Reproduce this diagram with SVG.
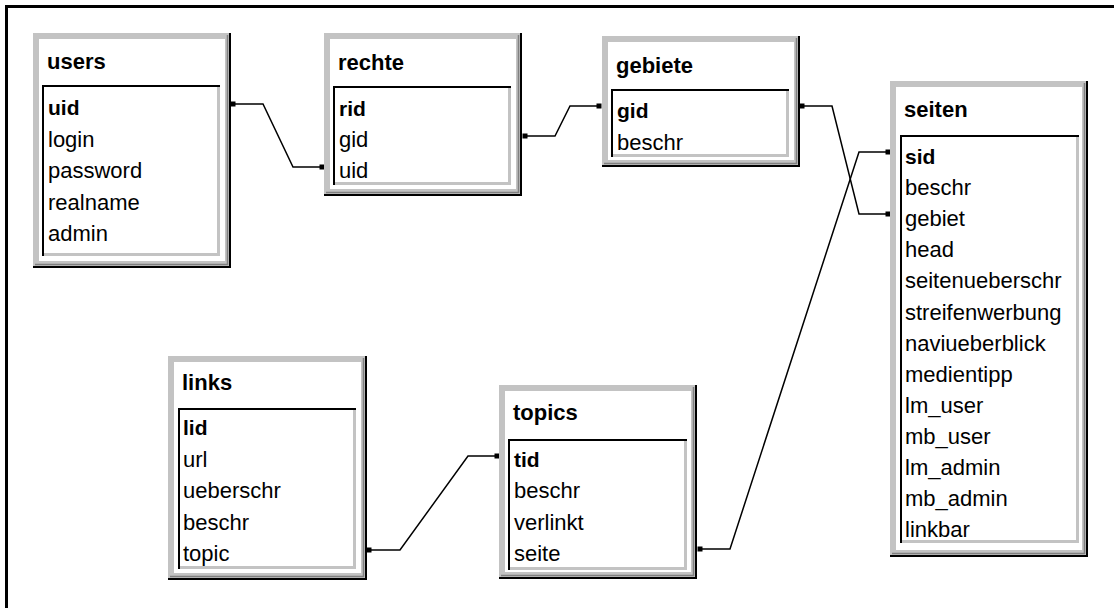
<svg xmlns="http://www.w3.org/2000/svg" width="1114" height="608" viewBox="0 0 1114 608">
<defs>
<style>
.frame{fill:#c3c3c3}
.inner{fill:#ffffff}
.dk{fill:none;stroke:#000;stroke-width:2}
.md{fill:none;stroke:#808080;stroke-width:1.5}
.lb{fill:#fff}
.lbt{fill:none;stroke:#000;stroke-width:2}
.lbb{fill:none;stroke:#c3c3c3;stroke-width:3}
.title{font-family:"Liberation Sans",Arial,sans-serif;font-weight:bold;font-size:22px;fill:#000}
.row{font-family:"Liberation Sans",Arial,sans-serif;font-size:22px;fill:#000}
.key{font-weight:bold;font-size:21px}
.conn{fill:none;stroke:#000;stroke-width:1.5;marker-start:url(#dot);marker-end:url(#dot)}
</style>
<marker id="dot" markerUnits="userSpaceOnUse" markerWidth="6" markerHeight="6" refX="3" refY="3" orient="auto">
<rect x="0.5" y="0.5" width="5" height="5" fill="#000"/>
</marker>
</defs>
<rect x="0" y="0" width="1114" height="608" fill="#fff"/>
<path d="M6.5,608 V6.5 H1114" fill="none" stroke="#000" stroke-width="3"/>

<g id="connectors">
<polyline class="conn" points="233,104 263,104 293,167 322,167"/>
<polyline class="conn" points="525,136 555,136 570,106 599,106"/>
<polyline class="conn" points="802,106 832,106 859,214 888,214"/>
<polyline class="conn" points="700,549 730,549 859,152 888,152"/>
<polyline class="conn" points="369,550 400,550 468,456 497,456"/>
</g>

<g id="users" transform="translate(33,33)">
<rect class="frame" x="0" y="0" width="198" height="235"/>
<rect class="inner" x="6" y="6" width="186" height="222"/>
<path class="md" d="M194.5,2 V231.5 H2"/>
<path class="dk" d="M197,0 V234 H0"/>
<rect class="lb" x="9" y="52" width="178" height="171"/>
<path class="lbb" d="M185.5,53 V221.5 H10"/>
<path class="lbt" d="M10,223 V53 H187"/>
<text class="title" x="14" y="36">users</text>
<text class="row key" x="15" y="82">uid</text>
<text class="row" x="15" y="113.5">login</text>
<text class="row" x="15" y="145">password</text>
<text class="row" x="15" y="176.5">realname</text>
<text class="row" x="15" y="208">admin</text>
</g>

<g id="rechte" transform="translate(324,33)">
<rect class="frame" x="0" y="0" width="198" height="163"/>
<rect class="inner" x="6" y="6" width="186" height="150"/>
<path class="md" d="M194.5,2 V159.5 H2"/>
<path class="dk" d="M197,0 V162 H0"/>
<rect class="lb" x="9" y="53" width="178" height="99"/>
<path class="lbb" d="M185.5,54 V150.5 H10"/>
<path class="lbt" d="M10,152 V54 H187"/>
<text class="title" x="14" y="37">rechte</text>
<text class="row key" x="15" y="83">rid</text>
<text class="row" x="15" y="114">gid</text>
<text class="row" x="15" y="145">uid</text>
</g>

<g id="gebiete" transform="translate(602,36)">
<rect class="frame" x="0" y="0" width="198" height="131"/>
<rect class="inner" x="6" y="6" width="186" height="118"/>
<path class="md" d="M194.5,2 V127.5 H2"/>
<path class="dk" d="M197,0 V130 H0"/>
<rect class="lb" x="9" y="53" width="178" height="68"/>
<path class="lbb" d="M185.5,54 V119.5 H10"/>
<path class="lbt" d="M10,121 V54 H187"/>
<text class="title" x="14" y="37">gebiete</text>
<text class="row key" x="15" y="82">gid</text>
<text class="row" x="15" y="113.5">beschr</text>
</g>

<g id="seiten" transform="translate(890,81)">
<rect class="frame" x="0" y="0" width="198" height="476"/>
<rect class="inner" x="6" y="6" width="186" height="463"/>
<path class="md" d="M194.5,2 V472.5 H2"/>
<path class="dk" d="M197,0 V475 H0"/>
<rect class="lb" x="10" y="54" width="179" height="408"/>
<path class="lbb" d="M187.5,55 V460.5 H11"/>
<path class="lbt" d="M11,462 V55 H189"/>
<text class="title" x="14" y="36">seiten</text>
<text class="row key" x="15" y="83">sid</text>
<text class="row" x="15" y="114.1">beschr</text>
<text class="row" x="15" y="145.2">gebiet</text>
<text class="row" x="15" y="176.3">head</text>
<text class="row" x="15" y="207.4">seitenueberschr</text>
<text class="row" x="15" y="238.5">streifenwerbung</text>
<text class="row" x="15" y="269.6">naviueberblick</text>
<text class="row" x="15" y="300.7">medientipp</text>
<text class="row" x="15" y="331.8">lm_user</text>
<text class="row" x="15" y="362.9">mb_user</text>
<text class="row" x="15" y="394">lm_admin</text>
<text class="row" x="15" y="425.1">mb_admin</text>
<text class="row" x="15" y="456.2">linkbar</text>
</g>

<g id="links" transform="translate(168,356)">
<rect class="frame" x="0" y="0" width="199" height="224"/>
<rect class="inner" x="6" y="6" width="187" height="211"/>
<path class="md" d="M195.5,2 V220.5 H2"/>
<path class="dk" d="M198,0 V223 H0"/>
<rect class="lb" x="10" y="52" width="178" height="161"/>
<path class="lbb" d="M186.5,53 V211.5 H11"/>
<path class="lbt" d="M11,213 V53 H188"/>
<text class="title" x="14" y="34">links</text>
<text class="row key" x="15" y="79">lid</text>
<text class="row" x="15" y="110.5">url</text>
<text class="row" x="15" y="142">ueberschr</text>
<text class="row" x="15" y="173.5">beschr</text>
<text class="row" x="15" y="205">topic</text>
</g>

<g id="topics" transform="translate(499,385)">
<rect class="frame" x="0" y="0" width="198" height="194"/>
<rect class="inner" x="6" y="6" width="186" height="181"/>
<path class="md" d="M194.5,2 V190.5 H2"/>
<path class="dk" d="M197,0 V193 H0"/>
<rect class="lb" x="9" y="54" width="179" height="131"/>
<path class="lbb" d="M186.5,55 V183.5 H10"/>
<path class="lbt" d="M10,185 V55 H188"/>
<text class="title" x="14" y="35">topics</text>
<text class="row key" x="15" y="82">tid</text>
<text class="row" x="15" y="113.3">beschr</text>
<text class="row" x="15" y="144.6">verlinkt</text>
<text class="row" x="15" y="176">seite</text>
</g>
</svg>
